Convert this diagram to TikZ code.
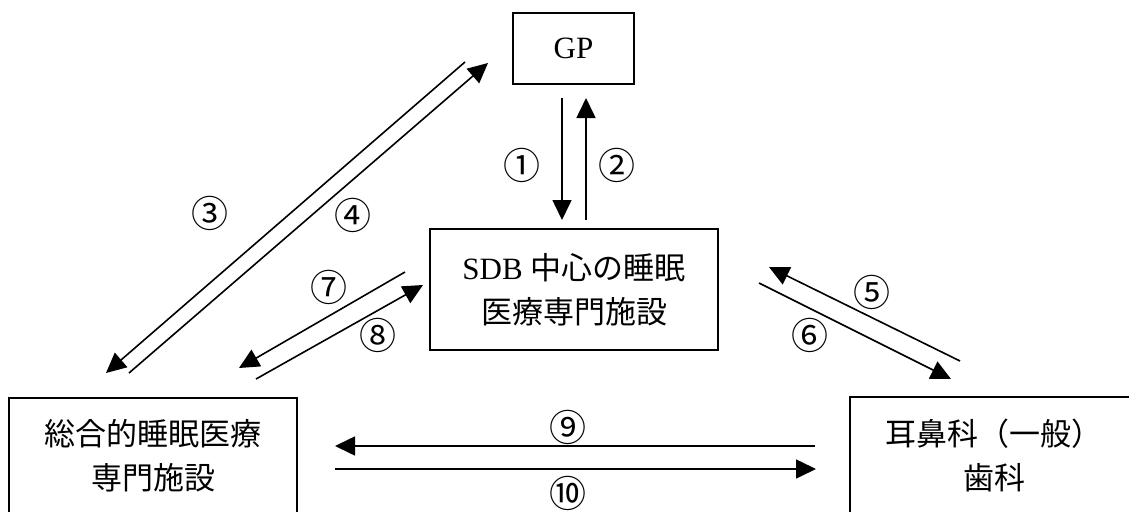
\documentclass[tikz,border=0pt]{standalone}
\usepackage{fontspec}
\setmainfont{Liberation Serif}
\newfontfamily\cjk{Noto Sans CJK JP}
\usetikzlibrary{arrows.meta}
\tikzset{
  box/.style={draw, line width=2pt, inner sep=0pt, align=center,
    font=\fontsize{31}{44}\selectfont},
  conn/.style={line width=1.6pt, -{Triangle[length=20pt,width=19pt]}},
  num/.style={inner sep=0pt, font=\cjk\fontsize{37}{38}\selectfont}
}
\begin{document}
\begin{tikzpicture}[x=1pt,y=-1pt]
\useasboundingbox (0,0) rectangle (1129,511);
\clip (0,0) rectangle (1129,511);
% boxes
\node[box, minimum width=121pt, minimum height=71pt] (gp) at (573.5,48.5) {GP};
\node[box, minimum width=288pt, minimum height=121pt] (sdb) at (574,289.5)
  {SDB {\cjk 中心の睡眠}\\{\cjk 医療専門施設}};
\node[box, minimum width=288pt, minimum height=116pt] (gen) at (153,456)
  {{\cjk 総合的睡眠医療}\\{\cjk 専門施設}};
\node[box, minimum width=288pt, minimum height=116pt] (ent) at (994,455)
  {{\cjk 耳鼻科（一般）}\\{\cjk 歯科}};
% connector end points
\coordinate (a1s) at (562,98);  \coordinate (a1e) at (562,220);
\coordinate (a2s) at (586,220); \coordinate (a2e) at (586,98);
\coordinate (a3s) at (465,62);  \coordinate (a3e) at (106,373);
\coordinate (a4s) at (129,373); \coordinate (a4e) at (488,63);
\coordinate (a5s) at (960,361); \coordinate (a5e) at (769,267);
\coordinate (a6s) at (759,283); \coordinate (a6e) at (951,379);
\coordinate (a7s) at (405,272); \coordinate (a7e) at (239,368);
\coordinate (a8s) at (256,379); \coordinate (a8e) at (423,285);
\coordinate (a9s) at (815,446); \coordinate (a9e) at (335,446);
\coordinate (a10s) at (335,469); \coordinate (a10e) at (816,469);
% connectors
\draw[conn] (a1s) -- (a1e);
\draw[conn] (a2s) -- (a2e);
\draw[conn] (a3s) -- (a3e);
\draw[conn] (a4s) -- (a4e);
\draw[conn] (a5s) -- (a5e);
\draw[conn] (a6s) -- (a6e);
\draw[conn] (a7s) -- (a7e);
\draw[conn] (a8s) -- (a8e);
\draw[conn] (a9s) -- (a9e);
\draw[conn] (a10s) -- (a10e);
% labels
\node[num] (n1) at (522,165) {①};
\node[num] (n2) at (617,165) {②};
\node[num] (n3) at (210,213) {③};
\node[num] (n4) at (353,215) {④};
\node[num] (n5) at (872,292) {⑤};
\node[num] (n6) at (810,335) {⑥};
\node[num] (n7) at (329,287) {⑦};
\node[num] (n8) at (378,335) {⑧};
\node[num] (n9) at (568,427) {⑨};
\node[num] (n10) at (568,493) {⑩};
\end{tikzpicture}
\end{document}
